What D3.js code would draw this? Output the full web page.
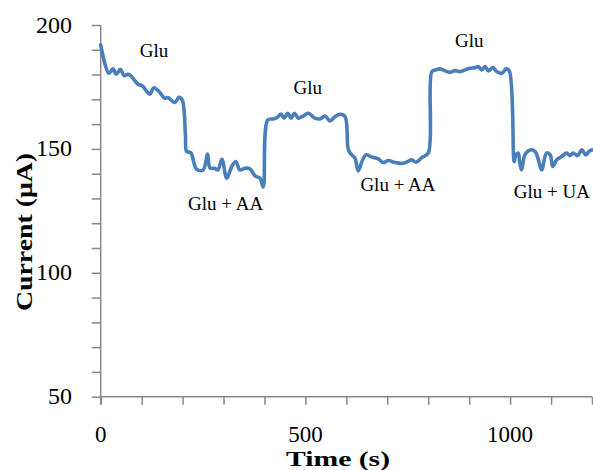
<!DOCTYPE html>
<html>
<head>
<meta charset="utf-8">
<script src="https://cdn.jsdelivr.net/npm/d3@7"></script>
<style>
  html, body { margin: 0; padding: 0; background: #fff; }
  svg { display: block; }
</style>
</head>
<body>
<svg id="chart" width="593" height="470"></svg>
<script>
// ---- data ----
const times = [0,20,30,38,48,57,68,75,91,102,120,130,144,156,164,181,191,199,207,210,220,234,250,261,267,278,286,296,308,320,330,340,352,365,377,389,397,
  408,422,432,440,448,457,465,473,483,495,507,523,536,548,560,572,585,597,
  605,613,621,629,638,648,662,678,690,703,719,739,750,760,770,784,800,
  809,819,829,841,853,866,878,890,902,914,922,931,939,947,958,967,980,990,998,
  1010,1014,1020,1023,1028,1036,1049,1061,1069,1077,1089,1098,1104,1114,1126,1138,1146,1154,1165,1175,1185,1194,1200];
const current = [192,180.5,182.3,180.1,182.1,179.6,180.1,179.2,176.1,175.4,172.1,174.7,172.9,170.4,170.7,168.7,170.8,169.8,155.6,148.9,148.5,141.8,141.5,147.9,142.2,142.2,141.5,145.8,138.2,142.9,144.9,141.5,142.2,141.9,139.1,138.2,134.6,
  161.7,162.1,162.8,164.1,162.4,164.4,162.4,164.4,162.4,163.3,164.4,162.4,162.1,163.3,161.3,163.0,164.0,163.0,
  149.6,147.6,146.3,141.1,144.9,147.6,146.7,146.0,144.5,145.3,144.5,144.2,144.9,145.6,144.6,146.5,148.3,
  181.2,181.9,182.3,181.5,180.9,181.6,181.2,181.9,182.5,182.8,183.2,181.9,183.2,181.5,182.8,181.2,180.5,182.3,181.5,
  144.9,147.6,148.3,144.9,141.5,147.6,149.6,148.9,145.6,141.5,148.3,147.6,142.9,145.6,146.9,148.3,147.3,148.3,147.3,149.6,147.6,149.2,149.6];

const xTickValues = [0, 500, 1000];
const yTickValues = [50, 100, 150, 200];

const annotLabels = ["Glu", "Glu + AA", "Glu", "Glu + AA", "Glu", "Glu + UA"];
const annotTimes  = [130, 305, 506, 726, 900, 1102];
const annotValues = [187.1, 125.3, 172.2, 133.0, 191.1, 130.2];

const xTitle = "Time (s)";
const yTitle = "Current (μA)";

// ---- drawing ----
const svg = d3.select("#chart");
const x = d3.scaleLinear().domain([0, 1200]).range([100.7, 592]);
const y = d3.scaleLinear().domain([50, 200]).range([396.7, 25]);

const axisColor = "#888888";
const serif = "'Liberation Serif', 'Times New Roman', serif";

// y axis
const yAxis = svg.append("g").attr("transform", `translate(${x(0)},0)`)
  .call(d3.axisLeft(y).tickValues(d3.range(50, 201, 10)).tickSize(9).tickFormat(""));
yAxis.select(".domain").remove();
yAxis.selectAll("line").attr("stroke", axisColor).attr("stroke-width", 1.5);
svg.append("line").attr("x1", x(0)).attr("x2", x(0)).attr("y1", y(200)).attr("y2", y(50) + 8)
  .attr("stroke", axisColor).attr("stroke-width", 1.5);

// x axis
const xAxis = svg.append("g").attr("transform", `translate(0,${y(50)})`)
  .call(d3.axisBottom(x).tickValues(d3.range(0, 1201, 100)).tickSize(8).tickFormat(""));
xAxis.select(".domain").remove();
xAxis.selectAll("line").attr("stroke", axisColor).attr("stroke-width", 1.5);
svg.append("line").attr("x1", x(0)).attr("x2", x(1200)).attr("y1", y(50)).attr("y2", y(50))
  .attr("stroke", axisColor).attr("stroke-width", 1.5);

// tick labels
svg.append("g").selectAll("text").data(yTickValues).join("text")
  .attr("x", 72).attr("y", d => y(d) + 7.5)
  .attr("text-anchor", "end")
  .attr("font-family", serif).attr("font-size", 24).attr("fill", "#000")
  .text(d => d);
svg.append("g").selectAll("text").data(xTickValues).join("text")
  .attr("x", d => x(d)).attr("y", 442)
  .attr("text-anchor", "middle")
  .attr("font-family", serif).attr("font-size", 23).attr("fill", "#000")
  .text(d => d);

// axis titles
svg.append("text").attr("x", 338).attr("y", 466)
  .attr("text-anchor", "middle")
  .attr("font-family", serif).attr("font-size", 21).attr("font-weight", "bold")
  .attr("textLength", 104).attr("lengthAdjust", "spacingAndGlyphs")
  .text(xTitle);
svg.append("text").attr("transform", "translate(32,232) rotate(-90)")
  .attr("text-anchor", "middle")
  .attr("font-family", serif).attr("font-size", 24).attr("font-weight", "bold")
  .attr("textLength", 158).attr("lengthAdjust", "spacingAndGlyphs")
  .text(yTitle);

// line
const pts = times.map((t, i) => [t, current[i]]);
svg.append("path").datum(pts)
  .attr("fill", "none").attr("stroke", "#4a7ebb").attr("stroke-width", 3.6)
  .attr("stroke-linejoin", "round").attr("stroke-linecap", "round")
  .attr("d", d3.line().x(d => x(d[0])).y(d => y(d[1])).curve(d3.curveCatmullRom.alpha(0.5)));

// annotations
svg.append("g").selectAll("text").data(annotLabels).join("text")
  .attr("x", (d, i) => x(annotTimes[i])).attr("y", (d, i) => y(annotValues[i]))
  .attr("text-anchor", "middle")
  .attr("font-family", serif).attr("font-size", 19).attr("fill", "#000")
  .text(d => d);
</script>
</body>
</html>
